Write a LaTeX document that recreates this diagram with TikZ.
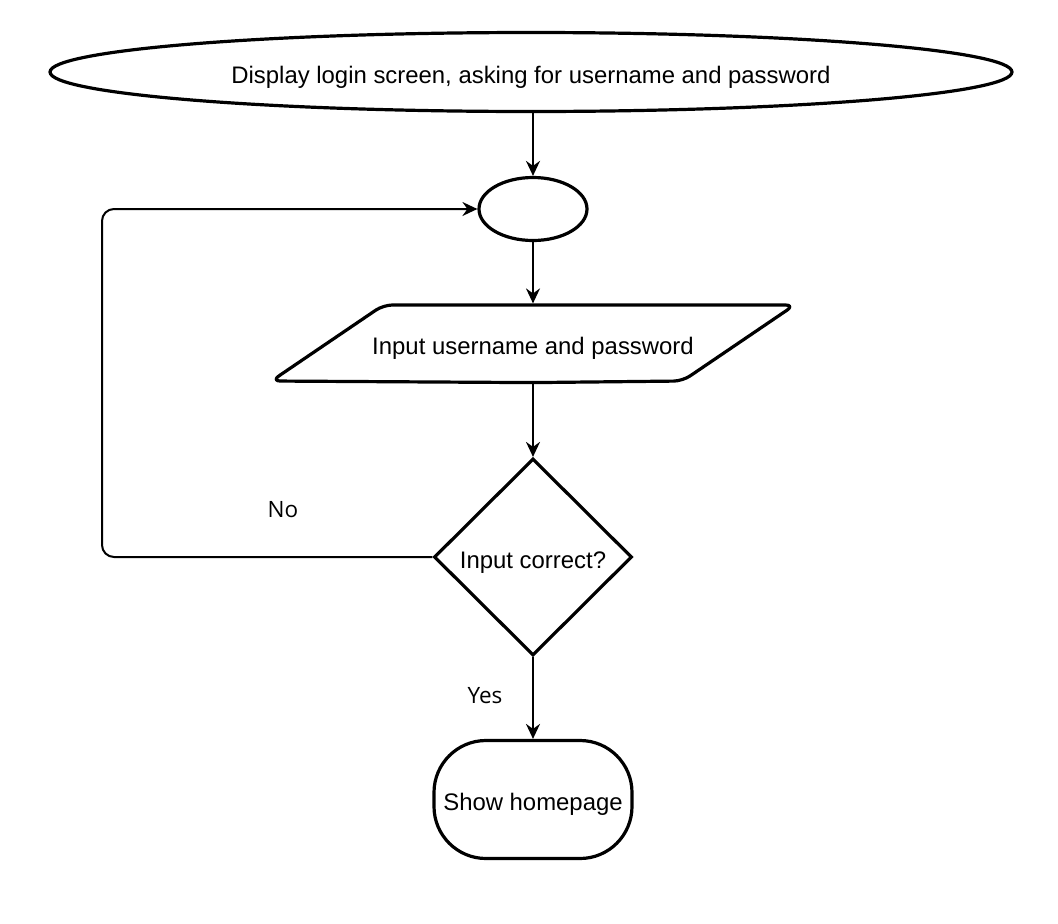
\documentclass[tikz,border=0pt]{standalone}
\usepackage{fontspec}
\setmainfont{Liberation Sans}
\newfontfamily\lblfont{Open Sans}
\usetikzlibrary{shapes.geometric,arrows.meta}
\begin{document}
\begin{tikzpicture}[x=1pt,y=-1pt,
  shapebox/.style={draw=black,line width=3.2pt,fill=white,inner sep=0pt,text height=22pt,text depth=0pt,font=\fontsize{23.9}{28}\selectfont},
  shapeline/.style={draw=black,line width=3.2pt,fill=white,line join=round},
  conn/.style={draw=black,line width=2pt,-{Stealth[length=15pt,width=14pt,inset=5pt]}},
  lbl/.style={font=\lblfont\fontsize{22.5}{26}\selectfont}]
\useasboundingbox[fill=white] (0,0) rectangle (1058,924);
\node[shapebox,ellipse,minimum width=962pt,minimum height=79pt] (start) at (531,72) {Display login screen, asking for username and password};
\node[shapebox,ellipse,minimum width=108pt,minimum height=63pt] (merge) at (533,209) {};
% parallelogram: invisible node carries text and anchors, outline drawn around it
\node[shapebox,draw=none,fill=none,rectangle,minimum width=408pt,minimum height=76pt] (input) at (533,343) {};
\draw[shapeline,rounded corners=9pt] (input.south) -- ([xshift=-56pt,yshift=1.6pt]input.south west) -- ([xshift=56pt,yshift=-1.6pt]input.north west) -- ([xshift=56pt,yshift=-1.6pt]input.north east) -- ([xshift=-56pt,yshift=1.6pt]input.south east) -- cycle;
\node[shapebox,draw=none,fill=none] (inputtext) at (input.center) {Input username and password};
\node[shapebox,diamond,minimum width=198pt,minimum height=197pt] (dec) at (533,557) {Input correct?};
\node[shapebox,rectangle,rounded corners=52pt,minimum width=198pt,minimum height=118pt] (home) at (533,799.5) {Show homepage};
\coordinate (lx) at (102,557);
\draw[conn] (merge.north |- start.south) -- (merge.north);
\draw[conn] (merge.south) -- (input.north);
\draw[conn] (input.south) -- (dec.north);
\draw[conn] (dec.south) -- (home.north);
\draw[conn,rounded corners=12pt] (dec.west) -- (dec.west -| lx) -- (merge.west -| lx) -- (merge.west);
\node[lbl] (no) at (283,510) {No};
\node[lbl] (yes) at (485,696) {Yes};
\end{tikzpicture}
\end{document}
